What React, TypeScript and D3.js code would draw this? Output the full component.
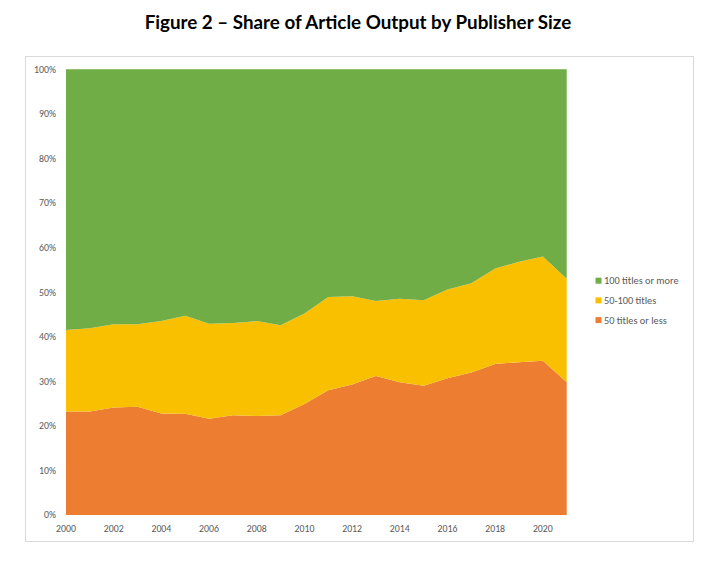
import React from "react";
import * as d3 from "d3";

const years = [2000, 2001, 2002, 2003, 2004, 2005, 2006, 2007, 2008, 2009, 2010, 2011, 2012, 2013, 2014, 2015, 2016, 2017, 2018, 2019, 2020, 2021];
const small = [23.2, 23.2, 24.1, 24.3, 22.8, 22.7, 21.6, 22.4, 22.2, 22.4, 24.9, 28.0, 29.3, 31.2, 29.8, 29.0, 30.7, 32.0, 33.9, 34.3, 34.6, 29.8];
const medium = [18.3, 18.7, 18.7, 18.5, 20.7, 22.0, 21.3, 20.7, 21.3, 20.2, 20.3, 20.9, 19.8, 16.8, 18.7, 19.2, 19.9, 20.0, 21.4, 22.5, 23.4, 23.2];
const large = [58.5, 58.1, 57.2, 57.2, 56.5, 55.3, 57.1, 56.9, 56.5, 57.4, 54.8, 51.1, 50.9, 52.0, 51.5, 51.8, 49.4, 48.0, 44.7, 43.2, 42.0, 47.0];
const seriesNames = ["50 titles or less", "50-100 titles", "100 titles or more"];
const seriesColors = ["#ED7D31", "#F9C000", "#70AD47"];
const yTicks = [0, 10, 20, 30, 40, 50, 60, 70, 80, 90, 100];
const xTicks = [2000, 2002, 2004, 2006, 2008, 2010, 2012, 2014, 2016, 2018, 2020];
const title = "Figure 2 – Share of Article Output by Publisher Size";

const W = 719, H = 561;
const plot = { left: 66, right: 566.7, top: 69.3, bottom: 515 };

export default function App() {
  const rows = years.map((y, i) => ({ year: y, s0: small[i], s1: medium[i], s2: large[i] }));
  const stack = d3.stack<any>().keys(["s0", "s1", "s2"]);
  const stacked = stack(rows);
  const x = d3.scaleLinear().domain([2000, 2021]).range([plot.left, plot.right]);
  const y = d3.scaleLinear().domain([0, 100]).range([plot.bottom, plot.top]);
  const area = d3.area<any>()
    .x((d: any) => x(d.data.year))
    .y0((d: any) => y(d[0]))
    .y1((d: any) => y(Math.min(100, d[1])));
  const font = "Calibri, Carlito, Lato, sans-serif";
  const legendOrder = [2, 1, 0];
  return (
    <svg width={W} height={H} style={{ position: "absolute", left: 0, top: 0 }}>
      <rect x={0} y={0} width={W} height={H} fill="#fff" />
      <text x={358} y={29} textAnchor="middle" fontFamily="Lato, sans-serif" fontWeight="bold" fontSize={18.8} fill="#000">{title}</text>
      <rect x={25.5} y={56.5} width={668} height={485} fill="#fff" stroke="#d9d9d9" strokeWidth={1} />
      {stacked.map((s, i) => (
        <path key={i} d={area(s as any) || ""} fill={seriesColors[i]} />
      ))}
      {yTicks.map((t) => (
        <text key={t} x={56} y={y(t)} dy="0.35em" textAnchor="end" fontFamily={font} fontSize={9.8} fill="#595959">{t}%</text>
      ))}
      {xTicks.map((t) => (
        <text key={t} x={x(t)} y={529} dy="0.35em" textAnchor="middle" fontFamily={font} fontSize={9.8} fill="#595959">{t}</text>
      ))}
      {legendOrder.map((si, k) => (
        <g key={si} transform={`translate(595.5, ${280.7 + k * 19.7})`}>
          <rect x={0} y={-3} width={6} height={6} fill={seriesColors[si]} />
          <text x={8.5} y={0} dy="0.35em" fontFamily={font} fontSize={10.3} fill="#595959">{seriesNames[si]}</text>
        </g>
      ))}
    </svg>
  );
}
